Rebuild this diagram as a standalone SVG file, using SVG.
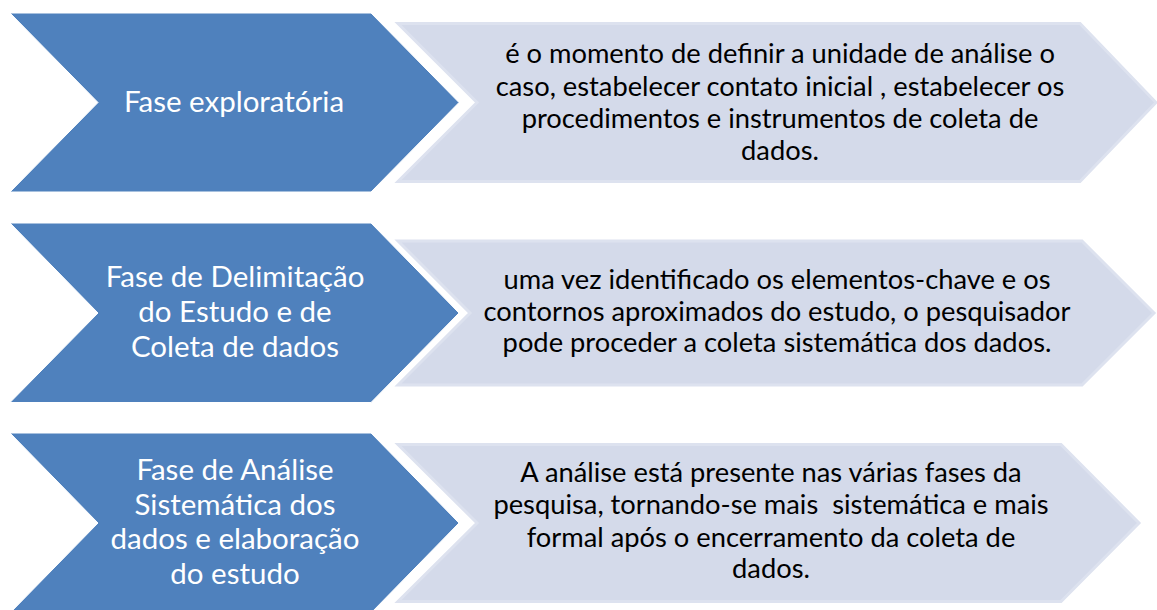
<svg xmlns="http://www.w3.org/2000/svg" width="1157" height="610" viewBox="0 0 1157 610">
<style>
.chev{fill:#4F81BD;stroke:#FFFFFF;stroke-width:1}
.box{fill:#D4DAEA;stroke:#DDE2EF;stroke-width:3;stroke-linejoin:miter}
.lt{font-family:Lato,"Liberation Sans",sans-serif;font-size:29.5px;fill:#FFFFFF;text-anchor:middle}
.rt{font-family:Lato,"Liberation Sans",sans-serif;font-size:27.3px;fill:#000000;text-anchor:middle}
</style>
<rect width="1157" height="610" fill="#FFFFFF"/>
<g id="row1">
<g id="phase1">
<polygon class="chev" points="10,13 371,13 459,102.5 371,192 10,192 98,102.5"/>
<text class="lt" x="234" y="112">Fase exploratória</text>
</g>
<g id="desc1">
<polygon class="box" points="398,23.5 1080,23.5 1156,102.5 1080,181.5 398,181.5 477,102.5"/>
<text class="rt" x="780" y="63">é o momento de definir a unidade de análise o</text>
<text class="rt" x="780" y="95.5">caso, estabelecer contato inicial , estabelecer os</text>
<text class="rt" x="780" y="128">procedimentos e instrumentos de coleta de</text>
<text class="rt" x="780" y="160">dados.</text>
</g>
</g>
<g id="row2">
<g id="phase2">
<polygon class="chev" points="10,223 371,223 459,313 371,402.5 10,402.5 98,313"/>
<text class="lt" x="235" y="287">Fase de Delimitação</text>
<text class="lt" x="235" y="322">do Estudo e de</text>
<text class="lt" x="235" y="357">Coleta de dados</text>
</g>
<g id="desc2">
<polygon class="box" points="398,241 1082,241 1154,313 1082,385 398,385 470,313"/>
<text class="rt" x="777" y="289">uma vez identificado os elementos-chave e os</text>
<text class="rt" x="777" y="320.5">contornos aproximados do estudo, o pesquisador</text>
<text class="rt" x="777" y="352">pode proceder a coleta sistemática dos dados.</text>
</g>
</g>
<g id="row3">
<g id="phase3">
<polygon class="chev" points="10,433 371,433 459,523 371,613 10,613 98,523"/>
<text class="lt" x="235" y="480">Fase de Análise</text>
<text class="lt" x="235" y="514.5">Sistemática dos</text>
<text class="lt" x="235" y="549">dados e elaboração</text>
<text class="lt" x="235" y="583.5">do estudo</text>
</g>
<g id="desc3">
<polygon class="box" points="398,444.5 1061,444.5 1139,523 1061,601.5 398,601.5 477,523"/>
<text class="rt" x="771" y="482">A análise está presente nas várias fases da</text>
<text class="rt" x="771" y="514" xml:space="preserve" style="white-space:pre">pesquisa, tornando-se mais  sistemática e mais</text>
<text class="rt" x="771" y="546.5">formal após o encerramento da coleta de</text>
<text class="rt" x="771" y="578">dados.</text>
</g>
</g>
<g id="connectors"/>
</svg>
